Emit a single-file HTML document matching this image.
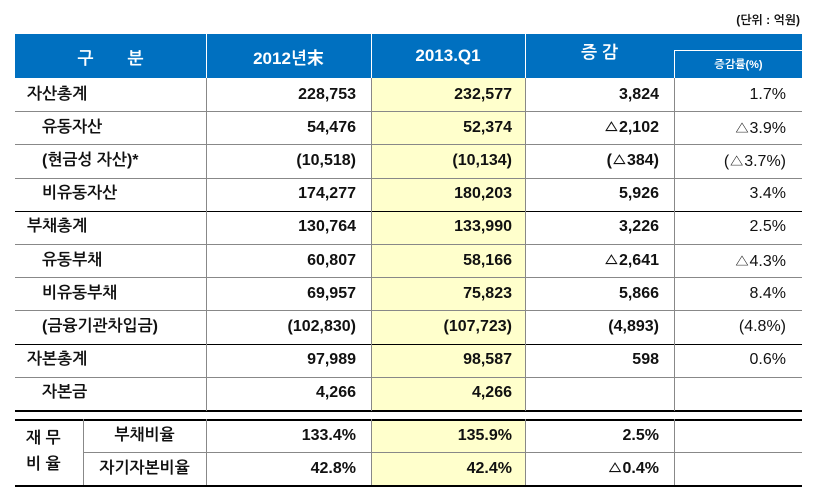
<!DOCTYPE html>
<html><head><meta charset="utf-8"><style>
body{margin:0;width:820px;height:488px;background:#fff;position:relative;overflow:hidden;font-family:"Liberation Sans","NanumGothic","Noto Sans CJK KR",sans-serif;}
.c{position:absolute;box-sizing:border-box;font-size:16px;font-weight:bold;color:#111;display:flex;align-items:center;white-space:nowrap}
.r{justify-content:flex-end}
.h{background:#0070C0;color:#fff;justify-content:center;font-size:17px}
.ln{position:absolute;background:#888}
.bk{position:absolute;background:#000}
</style></head><body>
<div class="c" style="left:700px;top:10px;width:100px;height:20px;font-size:12px;justify-content:flex-end">(단위 : 억원)</div>
<div id="t"></div>
<script>
var labels=['자산총계','유동자산','(현금성 자산)*','비유동자산','부채총계','유동부채','비유동부채','(금융기관차입금)','자본총계','자본금'];
var indent=[0,1,1,1,0,1,1,1,0,1];
var v2012=['228,753','54,476','(10,518)','174,277','130,764','60,807','69,957','(102,830)','97,989','4,266'];
var v2013=['232,577','52,374','(10,134)','180,203','133,990','58,166','75,823','(107,723)','98,587','4,266'];
var diff=['3,824','△2,102','(△384)','5,926','3,226','△2,641','5,866','(4,893)','598',''];
var rate=['1.7%','△3.9%','(△3.7%)','3.4%','2.5%','△4.3%','8.4%','(4.8%)','0.6%',''];
var ratioLabels=['부채비율','자기자본비율'];
var r2012=['133.4%','42.8%'],r2013=['135.9%','42.4%'],rdiff=['2.5%','△0.4%'];
var t=document.getElementById('t');
function cell(x,y,w,h,txt,cls,name,st){var d=document.createElement('div');d.className='c '+(cls||'');


d.style.left=x+'px';d.style.top=y+'px';d.style.width=w+'px';d.style.height=h+'px';if(st)d.style.cssText+=st;d.textContent=txt;t.appendChild(d);return d;}
function line(x,y,w,h,cls){var d=document.createElement('div');d.className=cls;


d.style.left=x+'px';d.style.top=y+'px';d.style.width=w+'px';d.style.height=h+'px';t.appendChild(d);}
var yc=document.createElement('div');yc.style.cssText='position:absolute;left:371px;top:78px;width:154px;height:333px;background:#FFFFCC';


t.appendChild(yc);
var yc2=yc.cloneNode();yc2.style.top='419px';yc2.style.height='66px';t.appendChild(yc2);
cell(15,34,787,44,'','h','header-bar');
cell(15,34,191,44,'구　　분','h','header-category');
cell(206,34,165,44,'2012년末','h','header-2012');
cell(371,34,154,44,'2013.Q1','h','header-2013');
cell(525,34,149,44,'증 감','h','header-change','align-items:flex-start;padding-top:9px');
cell(674,50,128,28,'증감률(%)','h','header-change-rate','font-size:11px;border-top:1px solid #fff;border-left:1px solid #fff');
[206,371,525].forEach(function(x){var d=document.createElement('div');d.style.cssText='position:absolute;left:'+x+'px;top:34px;width:1px;height:44px;background:#fff';


t.appendChild(d);});
var RH=33.2;
for(var i=0;i<labels.length;i++){var y=78+i*RH;
cell(15+(indent[i]?27:12),y,180,RH,labels[i],'','row-label');
cell(206,y,150,RH,v2012[i],'r','value-2012');
cell(371,y,141,RH,v2013[i],'r','value-2013');
cell(525,y,134,RH,diff[i],'r','value-change');
cell(674,y,112,RH,rate[i],'r','value-change-rate','font-weight:normal');
if(i>0)line(15,Math.round(y),787,1,(i==4||i==8)?'bk':'ln');}
line(15,410,787,2,'bk');
line(15,419,787,2,'bk');
cell(26,419,57,66,'재 무\n비 율','','ratio-group-label','white-space:pre;line-height:26px');
for(var j=0;j<2;j++){var y=419+j*33;
cell(83,y,123,33,ratioLabels[j],'','ratio-label','justify-content:center');
cell(206,y,150,33,r2012[j],'r','ratio-2012');
cell(371,y,141,33,r2013[j],'r','ratio-2013');
cell(525,y,134,33,rdiff[j],'r','ratio-change');
if(j>0)line(83,y,719,1,'ln');}
line(15,485,787,2,'bk');
[206,371,525,674].forEach(function(x){line(x,78,1,333,'ln');line(x,419,1,66,'ln');});
line(83,419,1,66,'ln');
</script>
</body></html>
